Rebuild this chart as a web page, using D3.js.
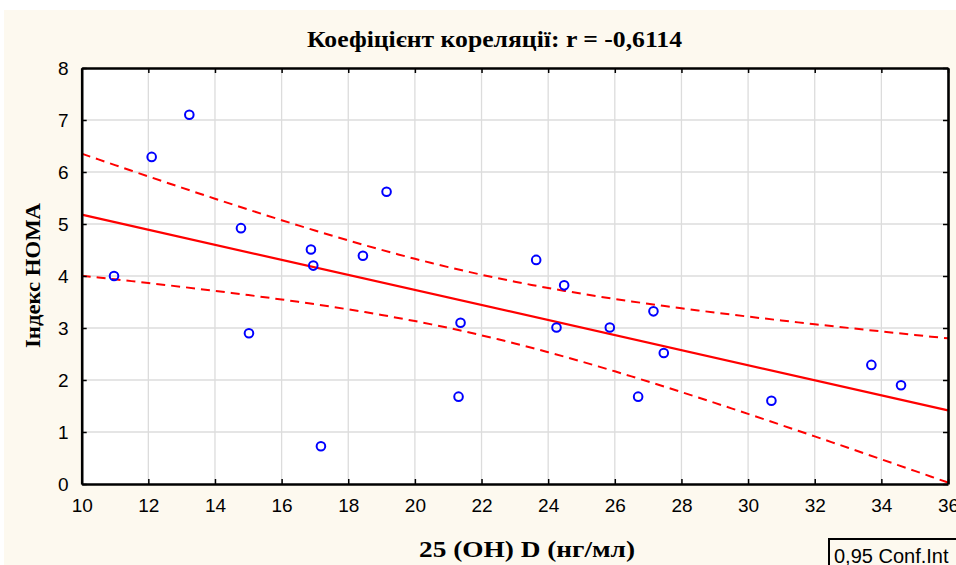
<!DOCTYPE html>
<html>
<head>
<meta charset="utf-8">
<script src="https://cdn.jsdelivr.net/npm/d3@7"></script>
<style>
  body { margin: 0; background: #fff; }
  svg { display: block; }
</style>
</head>
<body>
<div id="chart"></div>
<script>
// 25(OH)D, ng/ml  vs  HOMA index
const vitD = [10.97, 12.1, 13.23, 14.78, 15.02, 16.88, 16.95, 18.44, 19.15, 21.37, 21.31,
              17.18, 23.64, 24.48, 24.25, 25.85, 27.16, 27.47, 26.70, 30.70, 33.70, 34.59];
const homa = [4.0, 6.29, 7.10, 4.92, 2.90, 4.51, 4.20, 4.39, 5.62, 3.10, 1.68,
              0.725, 4.31, 3.82, 3.01, 3.01, 3.32, 2.52, 1.68, 1.60, 2.29, 1.90];
const xTicks = [10, 12, 14, 16, 18, 20, 22, 24, 26, 28, 30, 32, 34, 36];
const yTicks = [0, 1, 2, 3, 4, 5, 6, 7, 8];
const titleText = "Коефіцієнт кореляції: r = -0,6114";
const xLabel = "25 (OH) D (нг/мл)";
const yLabel = "Індекс HOMA";
const legendText = "0,95 Conf.Int";
const tCrit = 2.086; // t(0.975, df = 20)

const width = 956, height = 565;
const plotL = 81.7, plotR = 948, plotT = 68, plotB = 484;

const svg = d3.select("#chart").append("svg")
  .attr("width", width).attr("height", height);

svg.append("rect").attr("x", 4).attr("y", 10)
  .attr("width", width - 4).attr("height", height - 10)
  .attr("fill", "#fdf9ef");

const x = d3.scaleLinear().domain([10, 36]).range([plotL, plotR]);
const y = d3.scaleLinear().domain([0, 8]).range([plotB, plotT]);

svg.append("rect").attr("x", plotL).attr("y", plotT)
  .attr("width", plotR - plotL).attr("height", plotB - plotT)
  .attr("fill", "#fff");

// grid
const grid = svg.append("g").attr("stroke", "#dcdcdc").attr("stroke-width", 1.3);
grid.selectAll("line.v").data(xTicks.slice(1, -1)).join("line").attr("class", "v")
  .attr("x1", d => x(d)).attr("x2", d => x(d)).attr("y1", plotT).attr("y2", plotB);
grid.selectAll("line.h").data(yTicks.slice(1, -1)).join("line").attr("class", "h")
  .attr("y1", d => y(d)).attr("y2", d => y(d)).attr("x1", plotL).attr("x2", plotR);

// regression + confidence band
const n = vitD.length;
const mx = d3.mean(vitD), my = d3.mean(homa);
let sxy = 0, sxx = 0, syy = 0;
vitD.forEach((v, i) => {
  sxy += (v - mx) * (homa[i] - my);
  sxx += (v - mx) ** 2;
  syy += (homa[i] - my) ** 2;
});
const slope = sxy / sxx, icpt = my - slope * mx;
const s = Math.sqrt((syy - sxy * sxy / sxx) / (n - 2));
const fit = v => icpt + slope * v;
const half = v => tCrit * s * Math.sqrt(1 / n + (v - mx) ** 2 / sxx);
const xs = d3.range(10, 36.001, 0.5);

const line = d3.line().x(d => x(d[0])).y(d => y(d[1]));
svg.append("path").datum([[10, fit(10)], [36, fit(36)]])
  .attr("d", line).attr("fill", "none").attr("stroke", "#ff0000").attr("stroke-width", 2.2);
[1, -1].forEach(sg => {
  svg.append("path").datum(xs.map(v => [v, fit(v) + sg * half(v)]))
    .attr("d", line).attr("fill", "none").attr("stroke", "#ff0000")
    .attr("stroke-width", 2).attr("stroke-dasharray", "9,6");
});

// points
svg.append("g").selectAll("circle").data(vitD).join("circle")
  .attr("cx", d => x(d)).attr("cy", (d, i) => y(homa[i])).attr("r", 4.3)
  .attr("fill", "none").attr("stroke", "#0000ff").attr("stroke-width", 2);

// axes
function styleAxis(g) {
  g.select(".domain").attr("stroke", "#000").attr("stroke-width", 2.6);
  g.selectAll(".tick line").attr("stroke", "#000").attr("stroke-width", 1.5);
  g.selectAll("text").attr("font-family", "Liberation Sans, Arial, sans-serif")
    .attr("font-size", 19).attr("fill", "#000");
}
svg.append("g").attr("transform", `translate(0,${plotB})`)
  .call(d3.axisBottom(x).tickValues(xTicks).tickSize(-5).tickSizeOuter(0).tickPadding(15))
  .call(styleAxis);
svg.append("g").attr("transform", `translate(0,${plotT})`)
  .call(d3.axisTop(x).tickValues(xTicks).tickSize(-5).tickSizeOuter(0).tickFormat(""))
  .call(styleAxis);
svg.append("g").attr("transform", `translate(${plotL},0)`)
  .call(d3.axisLeft(y).tickValues(yTicks).tickSize(-5).tickSizeOuter(0).tickPadding(13))
  .call(styleAxis);
svg.append("g").attr("transform", `translate(${plotR},0)`)
  .call(d3.axisRight(y).tickValues(yTicks).tickSize(-5).tickSizeOuter(0).tickFormat(""))
  .call(styleAxis);

// titles
const serif = "Liberation Serif, Times New Roman, serif";
function label(sel, len, size) {
  return sel.attr("text-anchor", "middle").attr("font-family", serif)
    .attr("font-weight", "bold").attr("font-size", size)
    .attr("textLength", len).attr("lengthAdjust", "spacingAndGlyphs");
}
svg.append("text").attr("x", 494.5).attr("y", 47).call(label, 375, 24).text(titleText);
svg.append("text").attr("x", 527).attr("y", 557).call(label, 216, 24).text(xLabel);
svg.append("text").attr("transform", "translate(40,275.5) rotate(-90)")
  .call(label, 145, 22).text(yLabel);

// legend box
svg.append("rect").attr("x", 829).attr("y", 539).attr("width", 140).attr("height", 40)
  .attr("fill", "#fdf9ef").attr("stroke", "#000").attr("stroke-width", 2);
svg.append("text").attr("x", 834).attr("y", 563)
  .attr("font-family", "Liberation Sans, Arial, sans-serif").attr("font-size", 20)
  .text(legendText);
</script>
</body>
</html>
